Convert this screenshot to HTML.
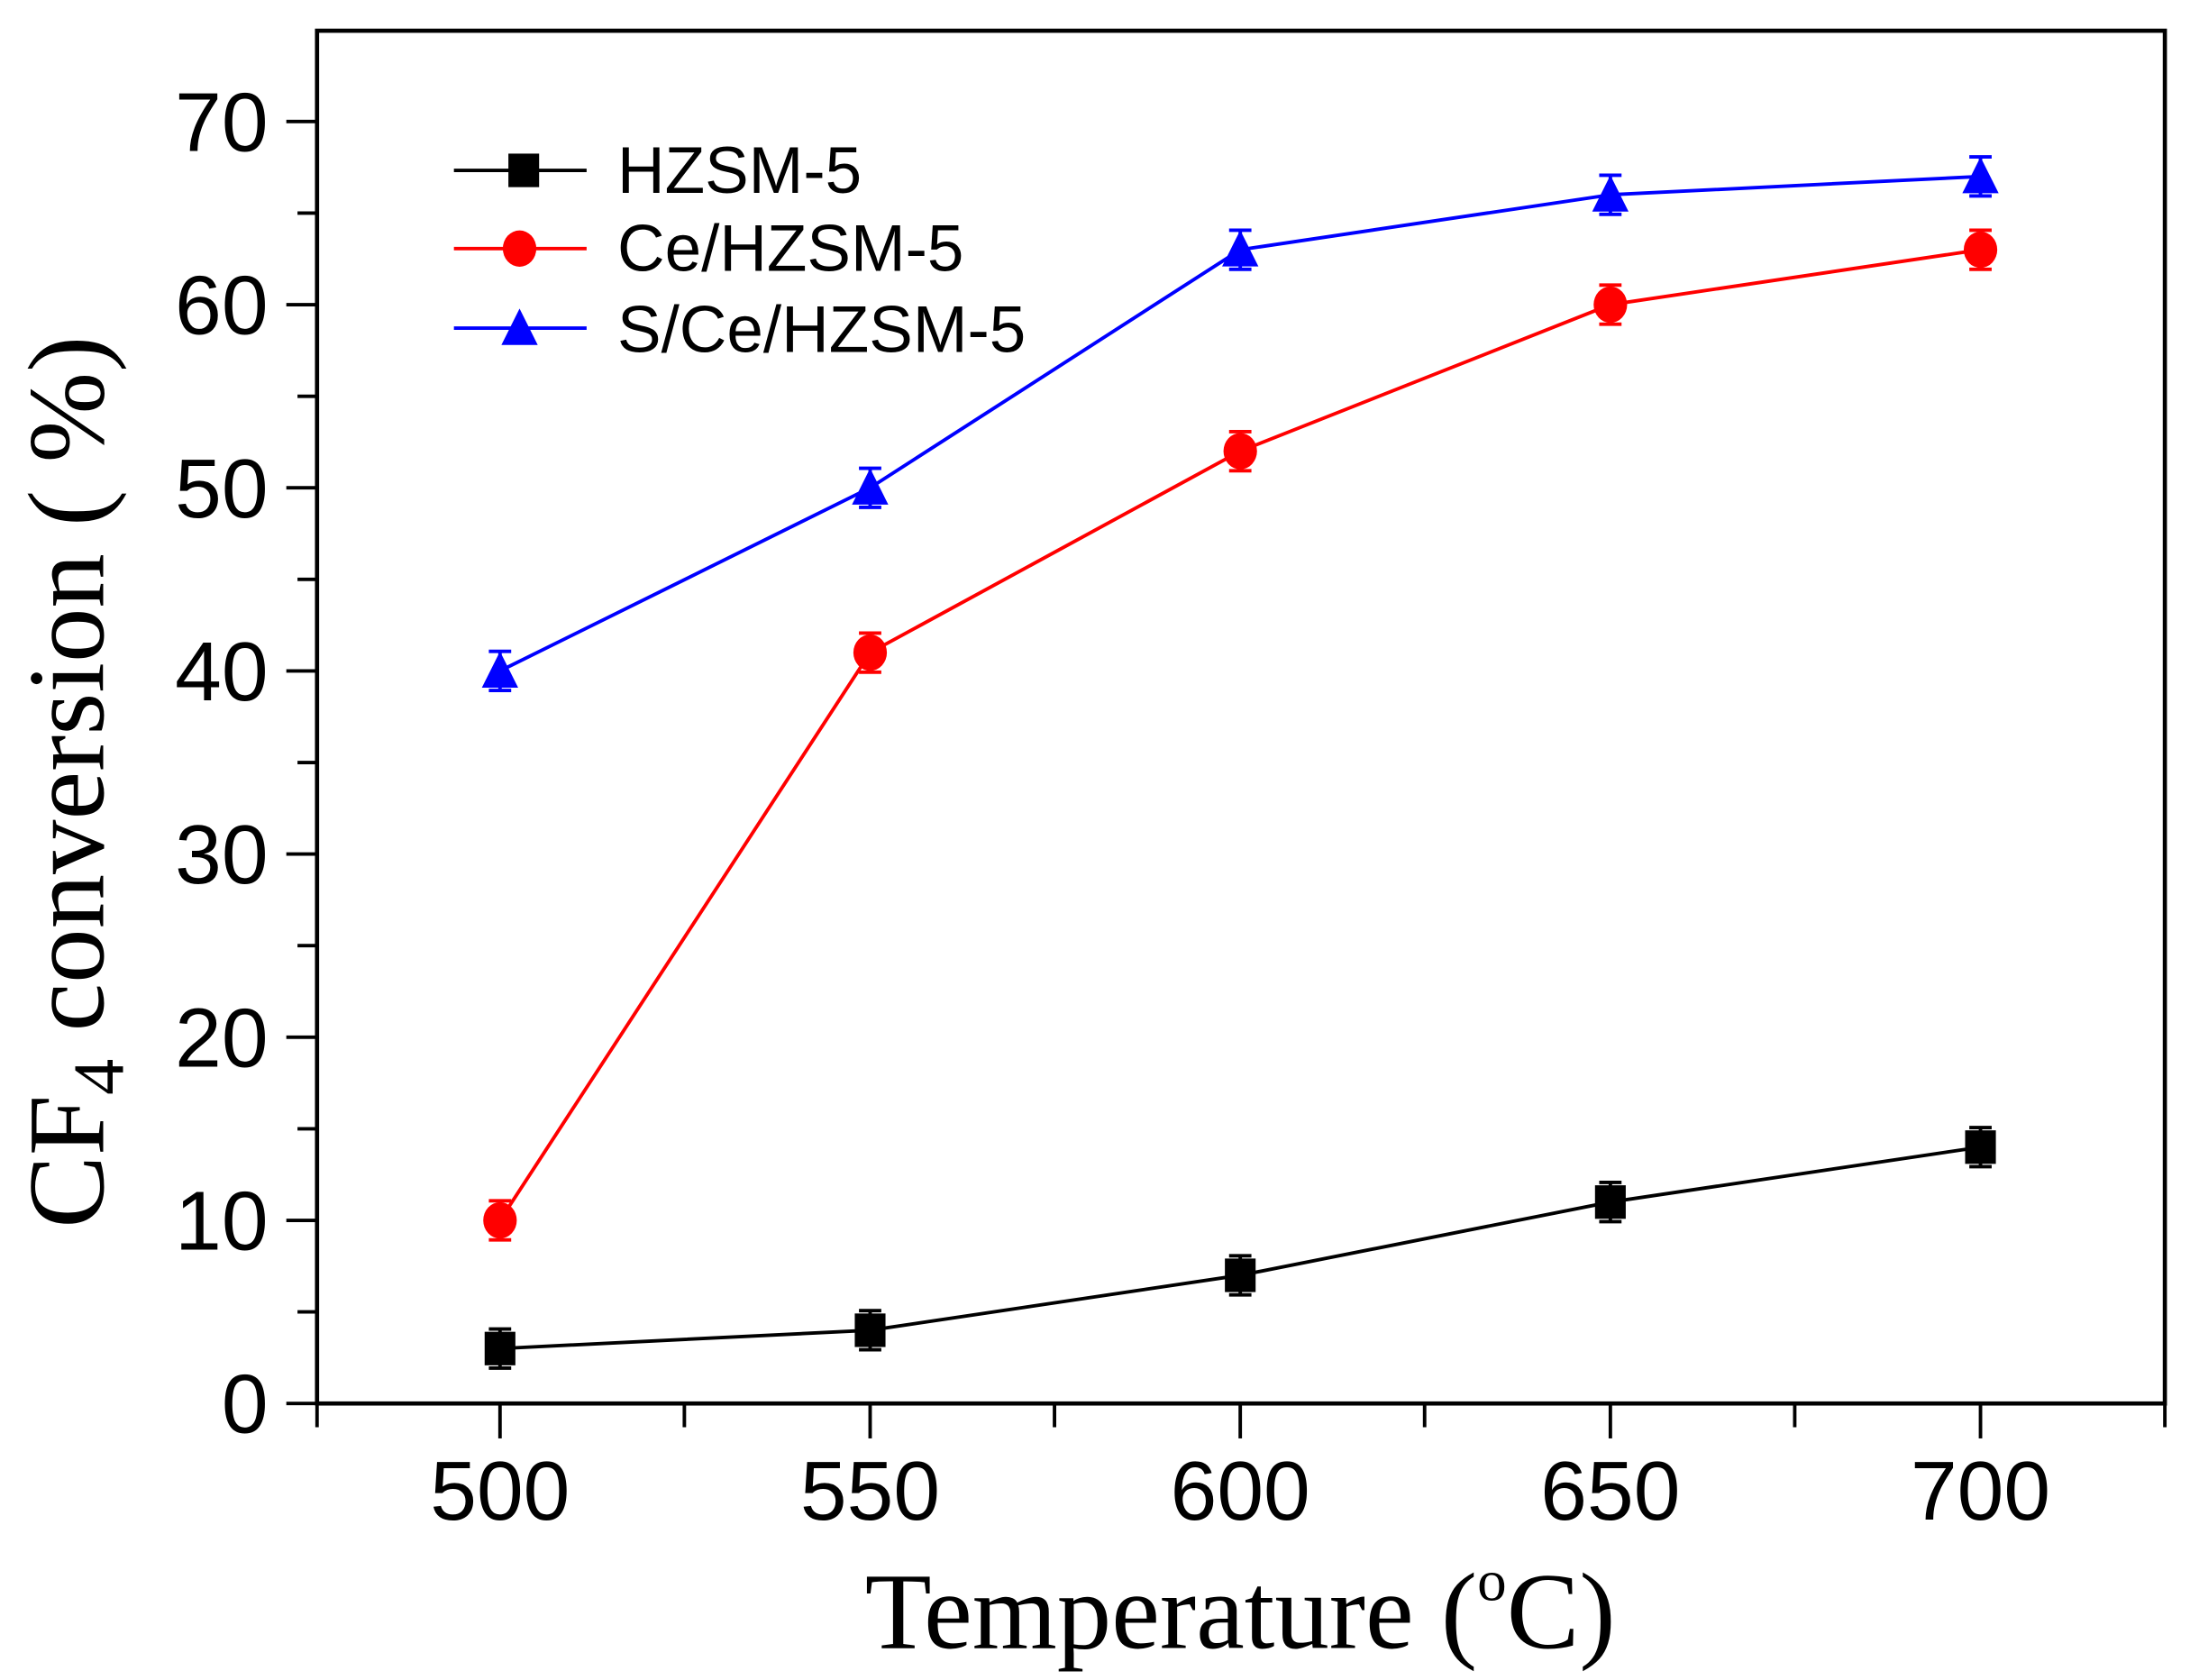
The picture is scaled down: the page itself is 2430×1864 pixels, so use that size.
<!DOCTYPE html>
<html><head><meta charset="utf-8"><style>html,body{margin:0;padding:0;background:#fff}svg{display:block}</style></head>
<body>
<svg width="2430" height="1864" viewBox="0 0 1568 1203" preserveAspectRatio="none" xmlns="http://www.w3.org/2000/svg">
<rect x="0" y="0" width="1568" height="1203" fill="#fff"/>
<g id="plot"></g>
<rect x="227" y="22" width="1323" height="983" fill="none" stroke="#000" stroke-width="3"/>
<g stroke="#000" stroke-width="2.5">
<line x1="227" y1="1005" x2="227" y2="1022"/>
<line x1="358" y1="1005" x2="358" y2="1030"/>
<line x1="490" y1="1005" x2="490" y2="1022"/>
<line x1="623" y1="1005" x2="623" y2="1030"/>
<line x1="755" y1="1005" x2="755" y2="1022"/>
<line x1="888" y1="1005" x2="888" y2="1030"/>
<line x1="1020" y1="1005" x2="1020" y2="1022"/>
<line x1="1153" y1="1005" x2="1153" y2="1030"/>
<line x1="1285" y1="1005" x2="1285" y2="1022"/>
<line x1="1418" y1="1005" x2="1418" y2="1030"/>
<line x1="1550" y1="1005" x2="1550" y2="1022"/>
</g>
<g stroke="#000" stroke-width="2.5" id="yt"></g>
<g font-family="Liberation Sans, sans-serif" font-size="60" text-anchor="middle" fill="#000">
<text x="358" y="1088">500</text><text x="623" y="1088">550</text><text x="888" y="1088">600</text><text x="1153" y="1088">650</text><text x="1418" y="1088">700</text>
</g>
<g font-family="Liberation Sans, sans-serif" font-size="60" text-anchor="end" fill="#000" id="yl"></g>
<text x="888" y="1180" font-family="Liberation Serif, serif" font-size="78" text-anchor="middle">Temperature (<tspan font-size="42" dy="-34">o</tspan><tspan dy="34">C)</tspan></text>
<text transform="translate(74,560) rotate(-90)" font-family="Liberation Serif, serif" font-size="78" text-anchor="middle">CF<tspan font-size="52" dy="14">4</tspan><tspan dy="-14"> conversion ( %)</tspan></text>
<g font-family="Liberation Sans, sans-serif" font-size="47" fill="#000">
<line x1="325" y1="122" x2="420" y2="122" stroke="#000" stroke-width="2.5"/><rect x="364" y="110" width="22" height="24" fill="#000"/><text x="442" y="138">HZSM-5</text>
<line x1="325" y1="178" x2="420" y2="178" stroke="#f00" stroke-width="2.5"/><ellipse cx="372" cy="178" rx="12" ry="13" fill="#f00"/><text x="442" y="194">Ce/HZSM-5</text>
<line x1="325" y1="235" x2="420" y2="235" stroke="#00f" stroke-width="2.5"/><polygon points="372,221 359,247 385,247" fill="#00f"/><text x="442" y="252">S/Ce/HZSM-5</text>
</g>
</svg>
<script>
const ns="http://www.w3.org/2000/svg";
const X=t=>358+(t-500)*5.3, Y=v=>1005-v*13.114;
const yt=document.getElementById('yt'), yl=document.getElementById('yl'), p=document.getElementById('plot');
function el(par,tag,a){const e=document.createElementNS(ns,tag);for(const k in a)e.setAttribute(k,a[k]);par.appendChild(e);return e;}
for(let v=0;v<=70;v+=5){const y=Y(v);el(yt,'line',{x1:227,x2:v%10?213:205,y1:y,y2:y});if(v%10==0){const t=el(yl,'text',{x:192,y:y+21});t.textContent=v;}}
const T=[500,550,600,650,700];
const S=[{c:'#000',d:[3,4,7,11,14],m:'s'},{c:'#f00',d:[10,41,52,60,63],m:'c'},{c:'#00f',d:[40,50,63,66,67],m:'t'}];
S.forEach(s=>{
el(p,'polyline',{points:T.map((t,i)=>X(t)+','+Y(s.d[i])).join(' '),fill:'none',stroke:s.c,'stroke-width':2.5});
T.forEach((t,i)=>{const x=X(t),y=Y(s.d[i]),e=14;
el(p,'line',{x1:x,x2:x,y1:y-e,y2:y+e,stroke:s.c,'stroke-width':2.5});
el(p,'line',{x1:x-8,x2:x+8,y1:y-e,y2:y-e,stroke:s.c,'stroke-width':2.5});
el(p,'line',{x1:x-8,x2:x+8,y1:y+e,y2:y+e,stroke:s.c,'stroke-width':2.5});
if(s.m=='s')el(p,'rect',{x:x-11,y:y-12,width:22,height:24,fill:s.c});
if(s.m=='c')el(p,'ellipse',{cx:x,cy:y,rx:12,ry:13,fill:s.c});
if(s.m=='t')el(p,'polygon',{points:`${x},${y-14} ${x-13},${y+12} ${x+13},${y+12}`,fill:s.c});
});});
</script>
</body></html>
